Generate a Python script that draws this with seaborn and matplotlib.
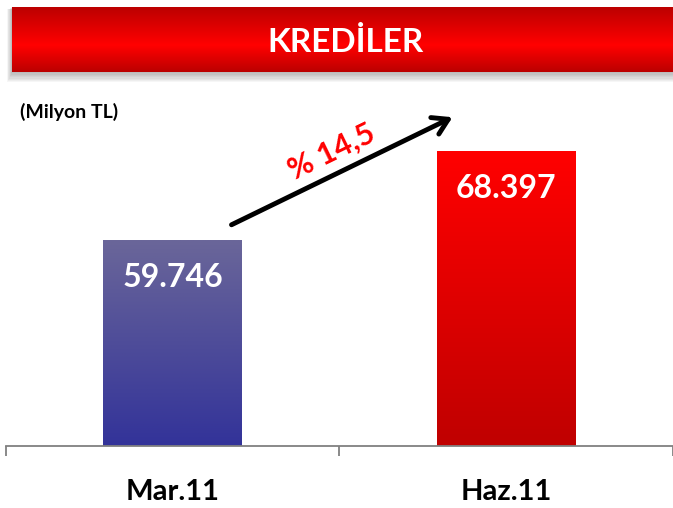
import numpy as np
import pandas as pd
import matplotlib
matplotlib.use("Agg")
import matplotlib.pyplot as plt
from matplotlib.colors import LinearSegmentedColormap
from matplotlib.patches import Rectangle
import seaborn as sns

# ---- data ----
categories = ["Mar.11", "Haz.11"]
values = [59746, 68397]
value_labels = ["59.746", "68.397"]
growth_label = "% 14,5"
title = "KREDİLER"
unit_label = "(Milyon TL)"
top_colors = ["#6A6699", "#FF0000"]
bottom_colors = ["#333399", "#C00000"]

sns.set_theme(style="white")
plt.rcParams['font.family'] = ['Lato', 'DejaVu Sans']

W, H = 673, 508
fig = plt.figure(figsize=(W / 100, H / 100), dpi=100)

# ---- title banner with soft shadow ----
bg = fig.add_axes([0, 0, 1, 1])
bg.set_axis_off()
bg.set_xlim(0, W); bg.set_ylim(H, 0)
for k in range(1, 9):
    bg.add_patch(Rectangle((12 - k * 0.6, 7 + k * 0.3), W, 65 + k * 1.0,
                           color="black", alpha=0.035, lw=0))
grad = np.concatenate([np.linspace(0, 1, 38), np.linspace(1, 0.0, 27)])
cmap_banner = LinearSegmentedColormap.from_list("b", ["#BC0000", "#FF0000"])
bg.imshow(grad.reshape(-1, 1), aspect="auto", cmap=cmap_banner, extent=[12, W, 72, 7],
          vmin=0, vmax=1, zorder=3)
bg.set_xlim(0, W); bg.set_ylim(H, 0)
bg.text(345, 42, title, color="white", fontsize=24, fontweight="bold",
        ha="center", va="center", zorder=4)

fig.text(20 / W, 1 - 112 / H, unit_label, fontsize=14, fontweight="bold", color="black",
         ha="left", va="center")

# ---- main axes ----
base_px, top_px = 446, 100
ax = fig.add_axes([5.5 / W, (H - base_px) / H, 1 - 5.5 / W, (base_px - top_px) / H])
df = pd.DataFrame({"cat": categories, "val": values})
sns.barplot(data=df, x="cat", y="val", ax=ax, width=0.4157, color="#333399", saturation=1)
ax.set_xlim(-0.5, 1.476)
ax.set_ylim(39723, 73355)

for i, p in enumerate(ax.patches):
    x0, y0 = p.get_x(), p.get_y()
    w, h = p.get_width(), p.get_height()
    cm = LinearSegmentedColormap.from_list("g%d" % i, [bottom_colors[i], top_colors[i]])
    im = ax.imshow(np.linspace(1, 0, 100).reshape(-1, 1), aspect="auto", cmap=cm,
                   extent=[x0, x0 + w, ax.get_ylim()[0], y0 + h], vmin=0, vmax=1, zorder=2)
    im.set_clip_path(p)
    p.set_facecolor("none")
    p.set_edgecolor("none")
    ax.annotate(value_labels[i], (x0 + w / 2, y0 + h), xytext=(0, -27), textcoords="offset points",
                ha="center", va="center", color="white", fontsize=23, fontweight="bold", zorder=5)

ax.set_xlim(-0.5, 1.476)
ax.set_ylim(39723, 73355)
ax.set_xlabel(""); ax.set_ylabel("")
ax.set_yticks([])
for s in ["left", "right", "top"]:
    ax.spines[s].set_visible(False)
ax.spines["bottom"].set_color("#808080")
ax.spines["bottom"].set_linewidth(1.3)
ax.set_xticks([0, 1])
ax.set_xticklabels(categories, fontsize=21, fontweight="bold", color="black")
ax.tick_params(axis="x", which="major", length=0, pad=24)
ax.set_xticks([-0.5, 0.5, 1.5], minor=True)
ax.tick_params(axis="x", which="minor", length=7.2, width=1.3, color="#808080", direction="out", bottom=True)
ax.patch.set_alpha(0)

# ---- growth arrow ----
ax.annotate("", xy=(455 / W, 1 - 116 / H), xytext=(229 / W, 1 - 226 / H),
            xycoords="figure fraction", textcoords="figure fraction",
            arrowprops=dict(arrowstyle="->,head_length=0.9,head_width=0.55", lw=3.5, color="black"))
fig.text(332 / W, 1 - 152 / H, growth_label, fontsize=22, fontweight="bold", color="#FF0000",
         rotation=26, ha="center", va="center", rotation_mode="anchor")

fig.savefig("out.png", dpi=100)
